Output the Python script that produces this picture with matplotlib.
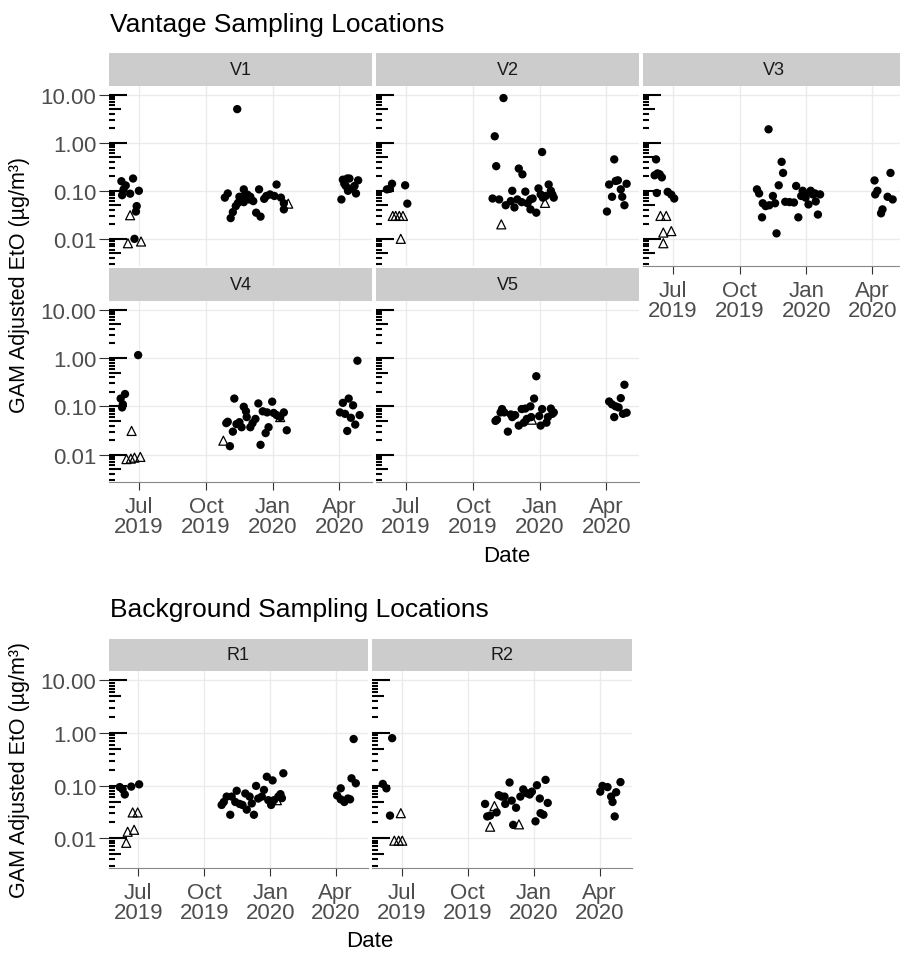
import numpy as np
import matplotlib.pyplot as plt
import matplotlib.dates as mdates
from matplotlib.ticker import NullLocator
from matplotlib.transforms import blended_transform_factory

plt.rcParams['font.family'] = ['Liberation Sans', 'DejaVu Sans']

# dias contados desde el 1 de julio de 2019
v1_day = [-24, -18, -8, -21, -23, -12, 0, -3, -4, -6,
          118, 122, 126, 129, 133, 138, 140, 144, 144, 149, 153, 157, 161, 167, 165, 172,
          175, 180, 186, 189, 195, 199, 199, 145, 151, 136, 135,
          278, 280, 286, 289, 282, 284, 296, 301, 287, 298, 290]
v1_val = [0.158, 0.129, 0.18, 0.107, 0.081, 0.087, 0.1, 0.048, 0.037, 0.01,
          0.072, 0.088, 0.027, 0.036, 0.048, 0.075, 0.065, 0.107, 0.058, 0.083, 0.075, 0.061, 0.035, 0.029, 0.107, 0.068,
          0.078, 0.084, 0.078, 0.135, 0.072, 0.055, 0.041, 0.078, 0.066, 0.056, 5.0,
          0.066, 0.17, 0.18, 0.18, 0.14, 0.126, 0.126, 0.165, 0.1, 0.088, 0.11]
v1_nd_day = [-12, -15, 3, 205]
v1_nd_val = [0.031, 0.0081, 0.0088, 0.054]

v2_day = [-26, -22, -19, -1, 2,
          134, 122, 124, 155, 160, 187, 119, 128, 137, 144, 146, 149, 153, 159, 164, 167, 171,
          171, 174, 179, 182, 185, 188, 196, 199, 201, 203, 192,
          286, 279, 288, 291, 295, 303, 283, 297, 300, 276]
v2_val = [0.107, 0.11, 0.14, 0.13, 0.054,
          8.5, 1.36, 0.325, 0.29, 0.22, 0.64, 0.069, 0.066, 0.05, 0.061, 0.1, 0.045, 0.066, 0.058, 0.096, 0.055, 0.066,
          0.041, 0.069, 0.035, 0.112, 0.084, 0.072, 0.135, 0.1, 0.084, 0.072, 0.078,
          0.45, 0.135, 0.16, 0.165, 0.107, 0.14, 0.075, 0.075, 0.05, 0.037]
v2_nd_day = [-18, -14, -9, -4, -7, 131, 191]
v2_nd_val = [0.03, 0.03, 0.03, 0.03, 0.01, 0.02, 0.056]

v3_day = [-23, -25, -21, -18, -15, -22, -7, -2, 2,
          132, 150, 152, 146, 116, 119, 124, 123, 128, 133, 138, 141, 143, 155, 161, 167, 170,
          173, 177, 179, 182, 187, 190, 193, 197, 200, 203, 196, 183,
          278, 282, 279, 289, 287, 296, 300, 303]
v3_val = [0.45, 0.21, 0.23, 0.22, 0.19, 0.09, 0.095, 0.083, 0.069,
          1.9, 0.4, 0.235, 0.13, 0.107, 0.088, 0.055, 0.028, 0.048, 0.05, 0.078, 0.055, 0.013, 0.059, 0.058, 0.057, 0.126,
          0.028, 0.078, 0.1, 0.088, 0.052, 0.1, 0.084, 0.06, 0.032, 0.084, 0.088, 0.072,
          0.164, 0.1, 0.084, 0.041, 0.034, 0.075, 0.235, 0.066]
v3_nd_day = [-17, -9, -13, -2, -13]
v3_nd_val = [0.03, 0.03, 0.0135, 0.0145, 0.0081]

v4_day = [-1, -19, -25, -22, -23,
          131, 125, 120, 122, 129, 134, 138, 141, 144, 147, 148, 153, 156, 160, 164, 167, 170,
          174, 178, 176, 183, 185, 189, 194, 199, 203,
          300, 288, 280, 294, 276, 283, 291, 303, 297, 286]
v4_val = [1.15, 0.18, 0.145, 0.11, 0.095,
          0.145, 0.015, 0.045, 0.048, 0.03, 0.043, 0.047, 0.037, 0.098, 0.079, 0.06, 0.037, 0.045, 0.055, 0.115, 0.016, 0.079,
          0.028, 0.037, 0.075, 0.125, 0.073, 0.066, 0.06, 0.075, 0.032,
          0.88, 0.145, 0.118, 0.105, 0.075, 0.07, 0.058, 0.066, 0.042, 0.031]
v4_nd_day = [-10, -17, -11, -6, 2, 116, 194]
v4_nd_val = [0.031, 0.0081, 0.0083, 0.0087, 0.009, 0.0195, 0.06]

v5_day = [179, 176, 171, 164, 159, 132, 135, 123, 125, 140, 146, 150, 155, 162, 166, 172,
          183, 185, 187, 193, 195, 199, 201, 203, 144, 130,
          300, 295, 279, 283, 288, 292, 303, 298, 286]
v5_val = [0.42, 0.145, 0.1, 0.09, 0.088, 0.088, 0.075, 0.05, 0.053, 0.03, 0.06, 0.066, 0.04, 0.046, 0.055, 0.06,
          0.063, 0.04, 0.088, 0.046, 0.06, 0.09, 0.07, 0.075, 0.068, 0.075,
          0.28, 0.148, 0.126, 0.11, 0.1, 0.095, 0.074, 0.07, 0.06]
v5_nd_day = [173]
v5_nd_val = [0.053]

r1_day = [-26, -22, -19, -10, 1,
          116, 119, 123, 128, 130, 135, 137, 141, 145, 149, 151, 155, 158, 161, 164, 167, 172,
          175, 179, 181, 185, 187, 189, 195, 198, 202, 200,
          300, 297, 303, 282, 277, 282, 287, 292, 295]
r1_val = [0.094, 0.085, 0.068, 0.096, 0.106,
          0.043, 0.049, 0.062, 0.028, 0.062, 0.049, 0.080, 0.045, 0.043, 0.071, 0.035, 0.062, 0.046, 0.028, 0.099, 0.057, 0.062,
          0.083, 0.148, 0.053, 0.043, 0.126, 0.053, 0.062, 0.069, 0.172, 0.058,
          0.77, 0.138, 0.111, 0.089, 0.065, 0.055, 0.049, 0.057, 0.055]
r1_nd_day = [-8, -1, -15, -6, -17, 193]
r1_nd_val = [0.031, 0.031, 0.0133, 0.0145, 0.0082, 0.053]

r2_day = [-13, -26, -21, -16,
          116, 119, 123, 132, 135, 139, 144, 143, 150, 153, 155, 159, 165, 169, 174, 178,
          181, 188, 192, 193, 197, 186, 200, 203,
          279, 286, 276, 291, 293, 298, 304, 296]
r2_val = [0.8, 0.108, 0.089, 0.027,
          0.045, 0.026, 0.027, 0.031, 0.066, 0.062, 0.045, 0.062, 0.115, 0.052, 0.018, 0.038, 0.062, 0.085, 0.072, 0.068,
          0.077, 0.102, 0.057, 0.030, 0.028, 0.021, 0.129, 0.047,
          0.099, 0.094, 0.077, 0.062, 0.049, 0.075, 0.117, 0.026]
r2_nd_day = [-1, -10, -4, 1, 129, 123, 163]
r2_nd_val = [0.030, 0.009, 0.009, 0.009, 0.041, 0.0166, 0.0184]

y_breaks = [0.01, 0.1, 1, 10]
y_labels = ['0.01', '0.10', '1.00', '10.00']
x_breaks = ['2019-07-01', '2019-10-01', '2020-01-01', '2020-04-01']
x_labels = ['Jul\n2019', 'Oct\n2019', 'Jan\n2020', 'Apr\n2020']

W, H = 900, 954
base = np.datetime64('2019-07-01')


def to_num(days):
    return mdates.date2num(base + np.array(days, dtype='timedelta64[D]'))


def rect(x0, x1, y0, y1):
    return [x0 / W, 1 - y1 / H, (x1 - x0) / W, (y1 - y0) / H]


def log_ticks(ax, width_px):
    tr = blended_transform_factory(ax.transAxes, ax.transData)
    for dec in [0.001, 0.01, 0.1, 1, 10]:
        for k in range(1, 10):
            L = 18 if k == 1 else (12 if k == 5 else 6)
            ax.plot([0, L / width_px], [dec * k, dec * k], transform=tr, color='black',
                    lw=1.5, solid_capstyle='butt', clip_on=True, zorder=2)


def panel(name, day, val, nd_day, nd_val, x0, x1, ys, yt, yb, show_y, show_x):
    st = fig.add_axes(rect(x0, x1, ys, yt))
    st.set_facecolor('#CCCCCC')
    st.set_xticks([])
    st.set_yticks([])
    for s in st.spines.values():
        s.set_visible(False)
    st.text(0.5, 0.5, name, ha='center', va='center', fontsize=13, color='#1A1A1A',
            transform=st.transAxes)

    ax = fig.add_axes(rect(x0, x1, yt, yb))
    ax.set_yscale('log')
    ax.set_ylim(10 ** -2.565, 10 ** 1.18)
    ax.set_xlim(to_num([-41])[0], to_num([320])[0])
    ax.set_yticks(y_breaks)
    ax.yaxis.set_minor_locator(NullLocator())
    ax.set_xticks(mdates.datestr2num(x_breaks))
    ax.grid(True, color='#EBEBEB', lw=1.0)
    ax.set_axisbelow(True)
    for s in ax.spines.values():
        s.set_visible(False)
    log_ticks(ax, x1 - x0)

    ax.scatter(to_num(day), val, s=36, color='black', edgecolors='none', zorder=3)
    ax.scatter(to_num(nd_day), nd_val, s=42, marker='^', facecolors='none',
               edgecolors='black', linewidths=0.9, zorder=3)

    if show_y:
        ax.set_yticklabels(y_labels)
        ax.tick_params(axis='y', length=7, width=0.8, color='#333333', pad=2,
                       labelsize=16, labelcolor='#4D4D4D')
    else:
        ax.tick_params(axis='y', length=0, labelleft=False)
    if show_x:
        ax.set_xticklabels(x_labels)
        ax.tick_params(axis='x', length=6, width=0.8, color='#333333', pad=4,
                       labelsize=16, labelcolor='#4D4D4D')
        for lb in ax.get_xticklabels():
            lb.set_linespacing(0.92)
        ax.spines['bottom'].set_visible(True)
        ax.spines['bottom'].set_color('#888888')
        ax.spines['bottom'].set_linewidth(0.8)
    else:
        ax.tick_params(axis='x', length=0, labelbottom=False)
    return ax


fig = plt.figure(figsize=(W / 100, H / 100), dpi=100)

cols = [(109, 372), (376, 639), (643, 905)]
panel('V1', v1_day, v1_val, v1_nd_day, v1_nd_val, *cols[0], 54, 87, 267, True, False)
panel('V2', v2_day, v2_val, v2_nd_day, v2_nd_val, *cols[1], 54, 87, 267, False, False)
panel('V3', v3_day, v3_val, v3_nd_day, v3_nd_val, *cols[2], 54, 87, 267, False, True)
panel('V4', v4_day, v4_val, v4_nd_day, v4_nd_val, *cols[0], 269, 302, 483, True, True)
panel('V5', v5_day, v5_val, v5_nd_day, v5_nd_val, *cols[1], 269, 302, 483, False, True)

panel('R1', r1_day, r1_val, r1_nd_day, r1_nd_val, 109, 368, 640, 672, 869, True, True)
panel('R2', r2_day, r2_val, r2_nd_day, r2_nd_val, 372, 632, 640, 672, 869, False, True)

ylab = 'GAM Adjusted EtO (\u00b5g/m\u00b3)'
fig.text(110 / W, 1 - 25 / H, 'Vantage Sampling Locations', fontsize=19, ha='left', va='center')
fig.text(20 / W, 1 - 285 / H, ylab, fontsize=15.5, rotation=90, ha='center', va='center')
fig.text(507 / W, 1 - 557 / H, 'Date', fontsize=16, ha='center', va='center')

fig.text(110 / W, 1 - 610 / H, 'Background Sampling Locations', fontsize=19, ha='left', va='center')
fig.text(20 / W, 1 - 770 / H, ylab, fontsize=15.5, rotation=90, ha='center', va='center')
fig.text(370 / W, 1 - 942 / H, 'Date', fontsize=16, ha='center', va='center')

fig.savefig('out.png', dpi=100)
